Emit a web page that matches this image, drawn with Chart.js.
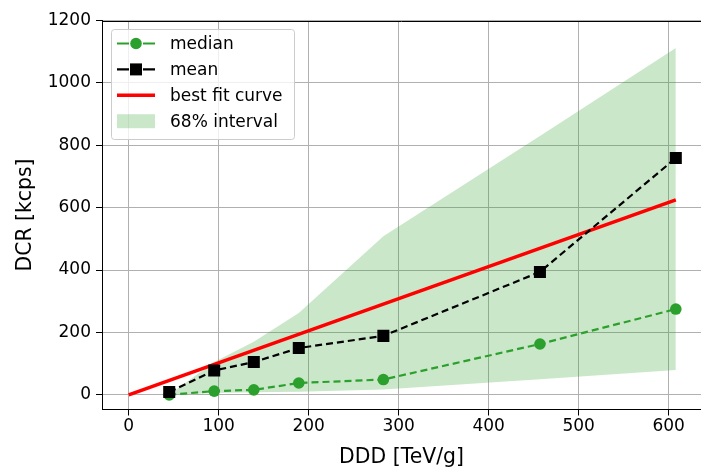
<!DOCTYPE html>
<html>
<head>
<meta charset="utf-8">
<script src="https://cdn.jsdelivr.net/npm/chart.js@4"></script>
<style>
  html, body { margin: 0; padding: 0; background: #fff; }
  #wrap { width: 701px; height: 471px; }
</style>
</head>
<body>
<div id="wrap"><canvas id="dcrChart" width="701" height="471"></canvas></div>
<script>
"use strict";

// values
const ddd = [45, 95, 139, 189, 283, 457, 608];
const dcrMedian = [0, 12, 16, 38, 49, 163, 275];
const dcrMean = [9, 78, 105, 150, 189, 394, 759];
const bandLow = [0, 6, 8, 10, 17, 50, 80];
const bandHigh = [0, 105, 170, 262, 508, 830, 1112];
const fitX = [0, 608];
const fitY = [0, 625];
const xTicks = [0, 100, 200, 300, 400, 500, 600];
const yTicks = [0, 200, 400, 600, 800, 1000, 1200];
const seriesLabels = ["median", "mean", "best fit curve", "68% interval"];

const GREEN = "#2ca02c";
const BAND = "rgba(44,160,44,0.25)";
const FONT = "'DejaVu Sans', sans-serif";

const pts = (xs, ys) => xs.map((x, i) => ({ x: x, y: ys[i] }));

// top spine (the right one is cut off in the original) + legend box
const frameAndLegend = {
    id: "frameAndLegend",
    afterDraw(chart) {
        const { ctx, chartArea: a } = chart;
        ctx.save();
        ctx.strokeStyle = "#000";
        ctx.lineWidth = 1;
        ctx.beginPath();
        ctx.moveTo(a.left, Math.round(a.top) + 0.5);
        ctx.lineTo(a.right, Math.round(a.top) + 0.5);
        ctx.stroke();

        ctx.beginPath();
        ctx.roundRect(111.5, 29.5, 183, 110, 3);
        ctx.fillStyle = "rgba(255,255,255,0.8)";
        ctx.fill();
        ctx.strokeStyle = "#cccccc";
        ctx.stroke();

        const x1 = 117, x2 = 155, mid = 136;
        ctx.font = "17px " + FONT;
        ctx.textBaseline = "middle";
        seriesLabels.forEach((label, i) => {
            const cy = 43.5 + i * 25.9;
            if (i < 2) {
                const col = i === 0 ? GREEN : "#000";
                ctx.strokeStyle = col;
                ctx.fillStyle = col;
                ctx.lineWidth = 2.2;
                ctx.beginPath();
                ctx.moveTo(x1, cy); ctx.lineTo(x1 + 12, cy);
                ctx.moveTo(x2 - 12, cy); ctx.lineTo(x2, cy);
                ctx.moveTo(mid - 4, cy); ctx.lineTo(mid + 4, cy);
                ctx.stroke();
                ctx.beginPath();
                if (i === 0) {
                    ctx.arc(mid, cy, 5.8, 0, Math.PI * 2);
                } else {
                    ctx.rect(mid - 6, cy - 6, 12, 12);
                }
                ctx.fill();
            } else if (i === 2) {
                ctx.strokeStyle = "#ff0000";
                ctx.lineWidth = 3.5;
                ctx.beginPath();
                ctx.moveTo(x1, cy); ctx.lineTo(x2, cy);
                ctx.stroke();
            } else {
                ctx.fillStyle = BAND;
                ctx.fillRect(x1, cy - 7, x2 - x1, 14);
            }
            ctx.fillStyle = "#000";
            ctx.fillText(label, 170, cy + 1);
        });
        ctx.restore();
    }
};

new Chart(document.getElementById("dcrChart"), {
    type: "line",
    data: {
        datasets: [
            {
                label: seriesLabels[0], data: pts(ddd, dcrMedian), order: 1,
                borderColor: GREEN, backgroundColor: GREEN, borderWidth: 2.2, borderDash: [7, 4],
                pointStyle: "circle", pointRadius: 5.8, pointBorderWidth: 0, fill: false
            },
            {
                label: seriesLabels[1], data: pts(ddd, dcrMean), order: 0,
                borderColor: "#000", backgroundColor: "#000", borderWidth: 2.2, borderDash: [7, 4],
                pointStyle: "rect", pointRadius: 8.5, pointBorderWidth: 0, fill: false
            },
            {
                label: seriesLabels[2], data: pts(fitX, fitY), order: 2,
                borderColor: "#ff0000", borderWidth: 3.5, pointRadius: 0, fill: false
            },
            {
                label: "band low", data: pts(ddd, bandLow), order: 4,
                borderWidth: 0, borderColor: "rgba(0,0,0,0)", pointRadius: 0, fill: false
            },
            {
                label: seriesLabels[3], data: pts(ddd, bandHigh), order: 3,
                borderWidth: 0, borderColor: "rgba(0,0,0,0)", backgroundColor: BAND,
                pointRadius: 0, fill: "-1"
            }
        ]
    },
    options: {
        responsive: false,
        animation: false,
        layout: { autoPadding: false, padding: { top: 20.5, right: 0, left: 0, bottom: 0 } },
        plugins: {
            legend: { display: false },
            tooltip: { enabled: false }
        },
        elements: { line: { tension: 0 } },
        scales: {
            x: {
                type: "linear", min: -29.7, max: 636,
                afterBuildTicks: s => { s.ticks = xTicks.map(v => ({ value: v })); },
                afterFit: s => { s.height = 61.5; s.paddingLeft = 0; s.paddingRight = 0; },
                grid: { color: "#b0b0b0", tickColor: "#000", tickLength: 6, lineWidth: 1 },
                border: { color: "#000", width: 1 },
                ticks: { color: "#000", font: { family: FONT, size: 17 }, padding: 1, maxRotation: 0, callback: v => String(v) },
                title: {
                    display: true, text: "DDD [TeV/g]", color: "#000",
                    font: { family: FONT, size: 20.4 }, padding: { top: 0, bottom: 1 }
                }
            },
            y: {
                type: "linear", min: -47, max: 1200,
                afterBuildTicks: s => { s.ticks = yTicks.map(v => ({ value: v })); },
                afterFit: s => { s.width = 102; s.paddingTop = 0; s.paddingBottom = 0; },
                grid: { color: "#b0b0b0", tickColor: "#000", tickLength: 6, lineWidth: 1 },
                border: { color: "#000", width: 1 },
                ticks: { color: "#000", font: { family: FONT, size: 17 }, padding: 5, callback: v => String(v) },
                title: {
                    display: true, text: "DCR [kcps]", color: "#000",
                    font: { family: FONT, size: 20.4 }, padding: { top: 13, bottom: 0 }
                }
            }
        }
    },
    plugins: [frameAndLegend]
});
</script>
</body>
</html>
